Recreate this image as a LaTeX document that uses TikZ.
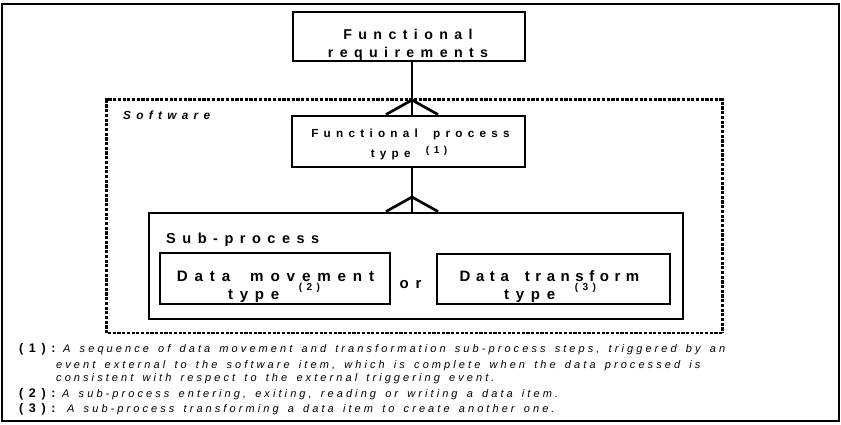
\documentclass[tikz,border=0pt]{standalone}
\usepackage{fontspec}
\setmainfont{Liberation Sans}
% letter-spaced cuts of the sans face; word spaces widened to match
\newfontfamily\wideA[LetterSpace=45, WordSpace=1.8]{Liberation Sans}
\newfontfamily\wideC[LetterSpace=37, WordSpace=1.65]{Liberation Sans}
\newfontfamily\wideN[LetterSpace=28, WordSpace=1.5]{Liberation Sans}

\tikzset{
  box/.style={draw, line width=2.9pt, inner sep=0pt},
  link/.style={line width=2.7pt},
  lbl/.style={anchor=base, inner sep=0pt},
  lblw/.style={anchor=base west, inner sep=0pt},
  head/.style={font=\wideA\bfseries\fontsize{#1}{#1}\selectfont},
  note/.style={font=\wideN\itshape\fontsize{11}{11}\selectfont},
  notelbl/.style={font=\wideA\bfseries\fontsize{12.5}{12.5}\selectfont},
  dots/.style={line width=#1, dash pattern=on 3.2pt off 1.5pt},
}

\begin{document}
\begin{tikzpicture}[x=1pt, y=-1pt]
\useasboundingbox (0,0) rectangle (841,424);

% outer frame
\node[draw, line width=2.4pt, inner sep=0pt, minimum width=837pt, minimum height=417pt] (frame) at (420.5,212.5) {};

% software boundary (dotted)
\node[inner sep=0pt, minimum width=615pt, minimum height=233pt] (sw) at (414.5,216.5) {};
\draw[dots=3pt]
  (sw.south west) -- (sw.north west) -- (sw.north east) -- (sw.south east);
\draw[dots=2pt]
  (sw.south east) -- (sw.south west);
\node[lblw, font=\wideA\bfseries\itshape\fontsize{11.8}{11.8}\selectfont] (swl) at (123,119) {Software};

% boxes
\node[box, minimum width=232pt, minimum height=49pt] (fr) at (409,36.5) {};
\node[box, minimum width=233pt, minimum height=51pt] (fp) at (408.5,141.5) {};
\node[box, minimum width=534pt, minimum height=106pt] (sp) at (416,266) {};
\node[box, minimum width=230pt, minimum height=51pt] (dm) at (275,278.5) {};
\node[box, minimum width=233pt, minimum height=50pt] (dt) at (553.5,279) {};

% box texts
\node[lbl, head=14.2] (frA) at (408,39) {Functional};
\node[lbl, head=14.2] (frB) at (408,57) {requirements};

\node[lbl, head=11.7] (fpA) at (410.5,137) {Functional process};
\node[lbl, head=11.7] (fpB) at (409,157) {type \raisebox{4pt}{\fontsize{10}{10}\selectfont(1)}};

\node[lblw, head=14.5] (spl) at (166,243) {Sub-process};

\node[lbl, head=15.2] (dmA) at (275.5,281) {Data movement};
\node[lbl, head=15] (dmB) at (274,299) {type \raisebox{9pt}{\fontsize{10}{10}\selectfont(2)}};

\node[lbl, font=\wideC\bfseries\fontsize{15}{15}\selectfont] (dtA) at (549.5,281) {Data transform};
\node[lbl, head=15] (dtB) at (550,299) {type \raisebox{9pt}{\fontsize{10}{10}\selectfont(3)}};

\node[lbl, head=15] (orl) at (410.5,288) {or};

% connectors with crow's feet
\coordinate (cf1) at (412,100);
\draw[link] ([xshift=3pt]fr.south) -- ([xshift=3.5pt]fp.north);
\draw[link] ([xshift=-22.5pt]fp.north) -- (cf1) -- ([xshift=29.5pt]fp.north);

\coordinate (cf2) at (412,197);
\draw[link] ([xshift=3.5pt]fp.south) -- ([xshift=-4pt]sp.north);
\draw[link] ([xshift=-30pt]sp.north) -- (cf2) -- ([xshift=22pt]sp.north);

% notes
\node[lblw, notelbl] (n1) at (19,352) {(1):};
\node[lblw, note] (t1a) at (63,352) {A sequence of data movement and transformation sub-process steps, triggered by an};
\node[lblw, note] (t1b) at (56,368) {event external to the software item, which is complete when the data processed is};
\node[lblw, note] (t1c) at (56,381) {consistent with respect to the external triggering event.};
\node[lblw, notelbl] (n2) at (19,397) {(2):};
\node[lblw, note] (t2) at (62,397) {A sub-process entering, exiting, reading or writing a data item.};
\node[lblw, notelbl] (n3) at (19,412) {(3):};
\node[lblw, note] (t3) at (67,412) {A sub-process transforming a data item to create another one.};
\end{tikzpicture}
\end{document}
